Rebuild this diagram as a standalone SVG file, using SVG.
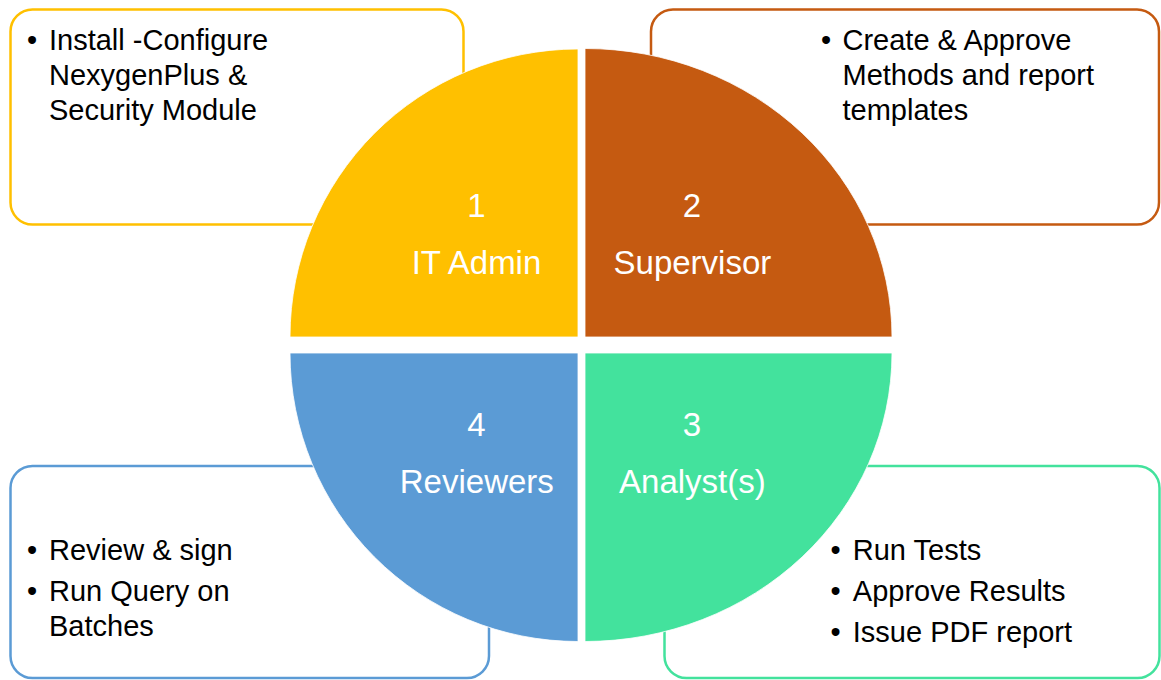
<svg xmlns="http://www.w3.org/2000/svg" width="1161" height="680" viewBox="0 0 1161 680">
<style>
.box{fill:#fff;stroke-width:2.5}
.q{stroke:#fff;stroke-width:0.8}
.lbl{font-family:"Liberation Sans",Arial,sans-serif;font-size:33px;fill:#fff;text-anchor:middle}
.txt{font-family:"Liberation Sans",Arial,sans-serif;font-size:29px;fill:#000}
</style>
<rect width="1161" height="680" fill="#fff"/>
<g id="box-it-admin">
<rect class="box" x="10.5" y="9.5" width="453" height="215" rx="22" stroke="#FFC000"/>
<text class="txt"><tspan x="27" y="50">•</tspan><tspan x="49" y="50">Install -Configure</tspan><tspan x="49" y="85">NexygenPlus &amp;</tspan><tspan x="49" y="119.5">Security Module</tspan></text>
</g>
<g id="box-supervisor">
<rect class="box" x="651" y="9.5" width="508" height="215" rx="22" stroke="#C55A11"/>
<text class="txt"><tspan x="821" y="50">•</tspan><tspan x="842.5" y="50">Create &amp; Approve</tspan><tspan x="842.5" y="85">Methods and report</tspan><tspan x="842.5" y="119.5">templates</tspan></text>
</g>
<g id="box-reviewers">
<rect class="box" x="10.5" y="466" width="478.5" height="212" rx="22" stroke="#5B9BD5"/>
<text class="txt"><tspan x="27" y="560">•</tspan><tspan x="49" y="560">Review &amp; sign</tspan><tspan x="27" y="600.7">•</tspan><tspan x="49" y="600.7">Run Query on</tspan><tspan x="49" y="636">Batches</tspan></text>
</g>
<g id="box-analysts">
<rect class="box" x="664.5" y="466" width="495" height="212" rx="22" stroke="#43E29D"/>
<text class="txt"><tspan x="830.5" y="560">•</tspan><tspan x="852.8" y="560">Run Tests</tspan><tspan x="830.5" y="600.7">•</tspan><tspan x="852.8" y="600.7">Approve Results</tspan><tspan x="830.5" y="641.7">•</tspan><tspan x="852.8" y="641.7">Issue PDF report</tspan></text>
</g>
<g id="node-1">
<path class="q" d="M578,337 L290,337 A288,288 0 0 1 578,49 Z" fill="#FFC000"/>
<text class="lbl" x="476.5" y="216.7">1</text>
<text class="lbl" x="476.5" y="274">IT Admin</text>
</g>
<g id="node-2">
<path class="q" d="M585,337 L585,48.5 A307,288.5 0 0 1 892,337 Z" fill="#C55A11"/>
<text class="lbl" x="692" y="216.7">2</text>
<text class="lbl" x="692.4" y="274">Supervisor</text>
</g>
<g id="node-3">
<path class="q" d="M585,353 L892,353 A307,288.5 0 0 1 585,641.5 Z" fill="#43E29D"/>
<text class="lbl" x="692" y="436">3</text>
<text class="lbl" x="692.4" y="493">Analyst(s)</text>
</g>
<g id="node-4">
<path class="q" d="M578,353 L578,641.5 A288,288.5 0 0 1 290,353 Z" fill="#5B9BD5"/>
<text class="lbl" x="476.5" y="436">4</text>
<text class="lbl" x="476.8" y="493">Reviewers</text>
</g>
<g id="connectors"></g>
</svg>
